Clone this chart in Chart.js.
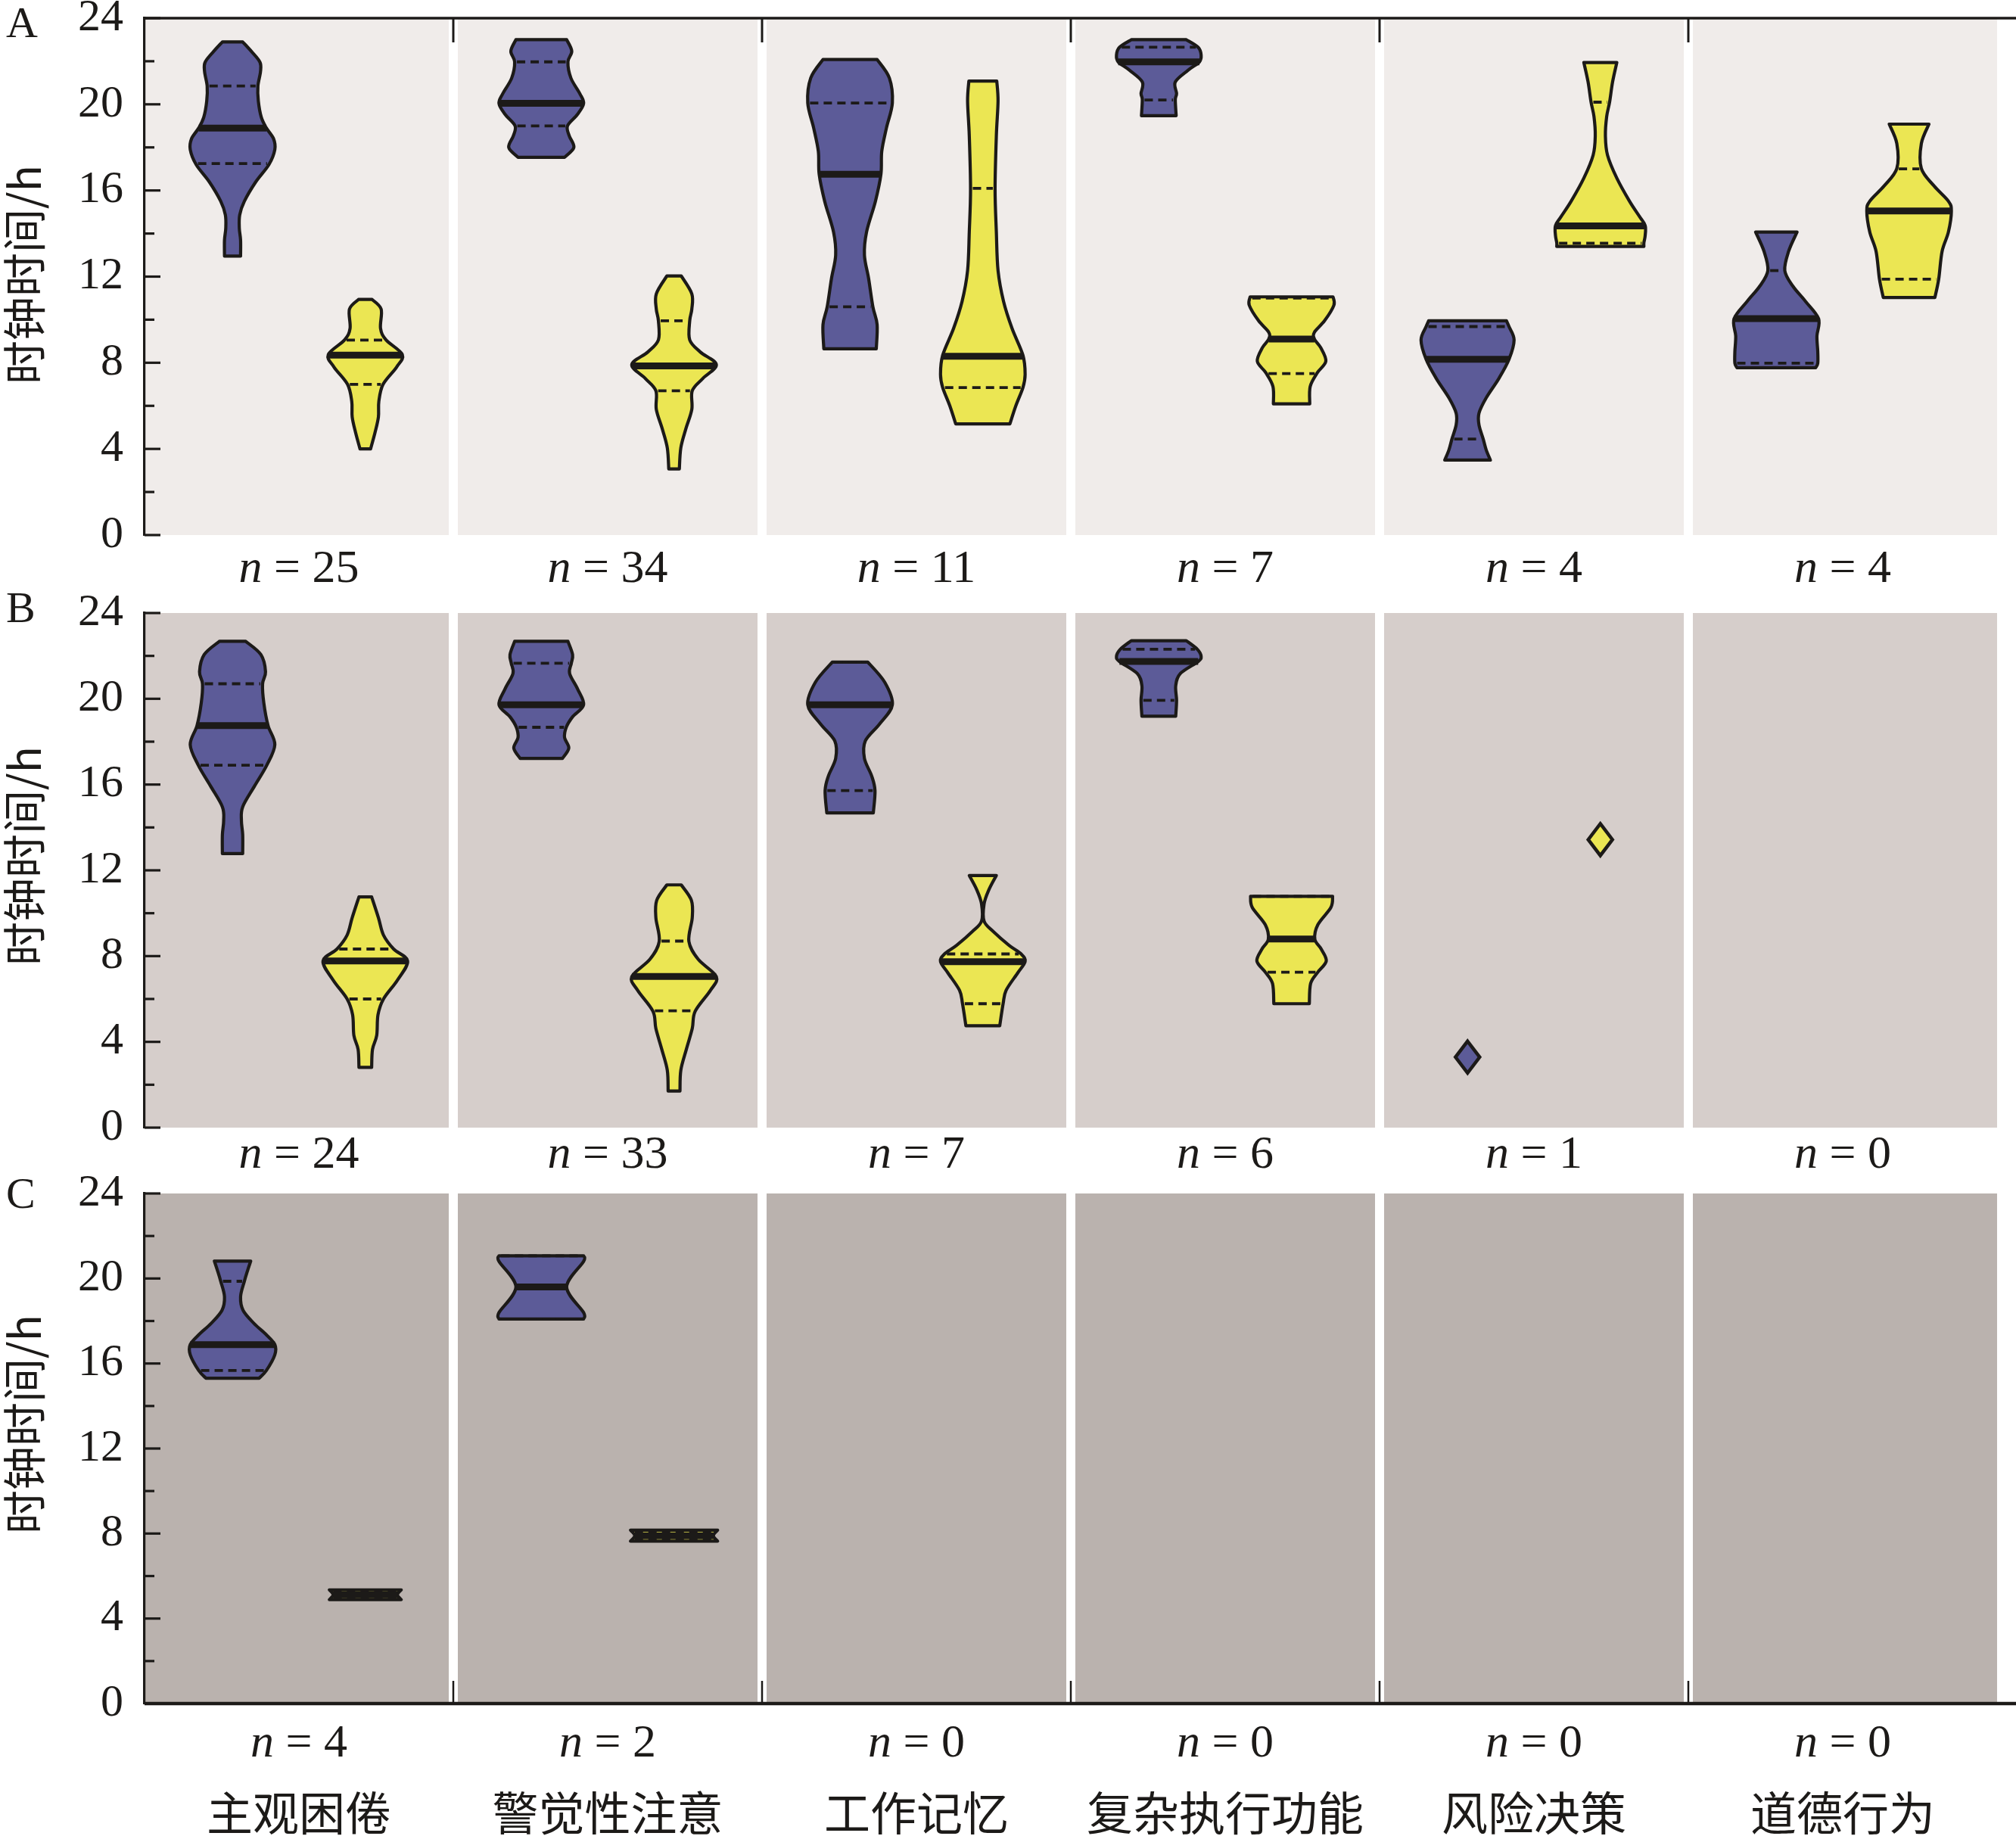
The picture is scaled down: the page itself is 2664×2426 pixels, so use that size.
<!DOCTYPE html>
<html lang="zh">
<head>
<meta charset="UTF-8">
<title>时钟时间小提琴图</title>
<script src="https://cdn.jsdelivr.net/npm/chart.js@4.4.0/dist/chart.umd.min.js"></script>
<style>
  html, body { margin: 0; padding: 0; background: #fff; }
  body { width: 2664px; height: 2426px; position: relative; overflow: hidden; }
  canvas { position: absolute; left: 0; }
</style>
</head>
<body>
<canvas id="panelA" width="2664" height="840" style="top:-40px"></canvas>
<canvas id="panelB" width="2664" height="820" style="top:746px"></canvas>
<canvas id="panelC" width="2664" height="913" style="top:1513px"></canvas>
<script>
// ---- data (hours) ----
const categories = ['主观困倦', '警觉性注意', '工作记忆', '复杂执行功能', '风险决策', '道德行为'];
const yTicks = [0, 4, 8, 12, 16, 20, 24];

const countsA = [25, 34, 11, 7, 4, 4];
const countsB = [24, 33, 7, 6, 1, 0];
const countsC = [4, 2, 0, 0, 0, 0];

// each violin: y = values along the outline, w = relative half width, med / q1 / q3
const violetA = [
  { y: [12.95, 13.7, 14.25, 14.87, 15.5, 16.4, 17.2, 17.9, 18.4, 18.9, 19.4, 20.15, 20.85, 21.5, 21.95, 22.45, 22.9],
    w: [0.19, 0.19, 0.16, 0.17, 0.28, 0.55, 0.86, 1.0, 0.97, 0.8, 0.68, 0.61, 0.6, 0.66, 0.65, 0.45, 0.24], med: 18.9, q1: 17.25, q3: 20.85 },
  { y: [17.54, 18.0, 18.54, 19.0, 19.52, 20.04, 20.5, 21.22, 21.97, 22.47, 23.0],
    w: [0.55, 0.77, 0.66, 0.62, 0.85, 1.0, 0.91, 0.7, 0.63, 0.72, 0.6], med: 20.05, q1: 19.0, q3: 21.97 },
  { y: [8.65, 9.77, 10.6, 11.9, 13.0, 14.07, 15.5, 16.75, 17.82, 18.9, 20.06, 21.22, 22.08],
    w: [0.62, 0.64, 0.54, 0.44, 0.34, 0.39, 0.6, 0.73, 0.75, 0.86, 1.0, 0.93, 0.64], med: 16.75, q1: 10.6, q3: 20.06 },
  { y: [19.47, 20.22, 20.5, 21.04, 21.58, 21.97, 22.3, 22.65, 23.0],
    w: [0.41, 0.39, 0.42, 0.39, 0.69, 0.96, 1.0, 0.93, 0.65], med: 21.97, q1: 20.2, q3: 22.65 },
  { y: [3.48, 3.96, 4.46, 5.12, 5.66, 6.37, 7.27, 8.16, 9.06, 9.68, 9.95],
    w: [0.54, 0.44, 0.37, 0.27, 0.27, 0.44, 0.74, 0.98, 1.1, 0.98, 0.92], med: 8.16, q1: 4.46, q3: 9.68 },
  { y: [7.77, 7.98, 8.52, 9.24, 10.04, 10.85, 11.56, 12.28, 13.17, 14.07],
    w: [0.93, 0.98, 0.98, 0.96, 1.0, 0.69, 0.39, 0.2, 0.29, 0.49], med: 10.05, q1: 7.98, q3: 12.28 }
];
const yellowA = [
  { y: [4.0, 4.76, 5.48, 6.2, 7.0, 7.8, 8.38, 9.06, 9.6, 10.49, 10.94],
    w: [0.125, 0.23, 0.31, 0.32, 0.42, 0.74, 0.875, 0.49, 0.36, 0.375, 0.16], med: 8.35, q1: 7.0, q3: 9.05 },
  { y: [3.07, 4.05, 4.94, 5.84, 6.7, 7.27, 7.91, 8.5, 9.06, 9.95, 10.49, 11.2, 12.03],
    w: [0.125, 0.16, 0.28, 0.42, 0.43, 0.68, 1.0, 0.62, 0.37, 0.37, 0.42, 0.42, 0.17], med: 7.85, q1: 6.7, q3: 9.95 },
  { y: [5.16, 6.0, 6.86, 7.45, 8.34, 9.6, 10.85, 12.28, 14.07, 16.07, 18.54, 20.15, 21.08],
    w: [0.64, 0.78, 0.95, 1.0, 0.95, 0.69, 0.49, 0.36, 0.32, 0.29, 0.32, 0.36, 0.33], med: 8.3, q1: 6.85, q3: 16.1 },
  { y: [6.09, 6.9, 7.54, 8.07, 8.7, 9.1, 9.42, 9.95, 10.67, 11.06],
    w: [0.43, 0.44, 0.61, 0.81, 0.69, 0.54, 0.54, 0.78, 1.0, 0.98], med: 9.1, q1: 7.5, q3: 11.0 },
  { y: [13.4, 13.57, 13.9, 14.37, 14.78, 15.5, 16.57, 17.64, 18.54, 19.43, 20.11, 21.04, 21.94],
    w: [1.03, 1.03, 1.06, 1.06, 0.93, 0.69, 0.39, 0.17, 0.12, 0.15, 0.22, 0.29, 0.39], med: 14.35, q1: 13.55, q3: 20.1 },
  { y: [11.03, 11.88, 13.17, 14.07, 15.05, 15.5, 16.21, 17.02, 18.18, 19.08],
    w: [0.61, 0.7, 0.78, 0.93, 1.0, 0.93, 0.59, 0.29, 0.29, 0.47], med: 15.05, q1: 11.88, q3: 17.0 }
];

const violetB = [
  { y: [12.78, 13.66, 14.31, 14.96, 15.93, 16.9, 17.86, 18.75, 19.8, 20.69, 21.26, 22.06, 22.68],
    w: [0.24, 0.24, 0.21, 0.24, 0.52, 0.81, 1.0, 0.84, 0.74, 0.71, 0.78, 0.67, 0.31], med: 18.75, q1: 16.9, q3: 20.7 },
  { y: [17.22, 17.7, 18.19, 18.67, 19.16, 19.72, 20.45, 21.18, 21.66, 22.06, 22.68],
    w: [0.5, 0.65, 0.55, 0.59, 0.74, 1.0, 0.86, 0.67, 0.71, 0.74, 0.63], med: 19.72, q1: 18.67, q3: 21.66 },
  { y: [14.68, 15.72, 16.41, 17.22, 18.03, 18.83, 19.72, 20.77, 21.71],
    w: [0.55, 0.59, 0.51, 0.34, 0.36, 0.7, 1.0, 0.82, 0.42], med: 19.72, q1: 15.72, q3: 21.71 },
  { y: [19.19, 19.93, 20.61, 21.18, 21.74, 21.98, 22.31, 22.71],
    w: [0.4, 0.42, 0.4, 0.51, 0.93, 1.0, 0.91, 0.65], med: 21.74, q1: 19.93, q3: 22.31 },
  { point: 3.29 },
  null
];
const yellowB = [
  { y: [2.81, 3.65, 4.3, 5.26, 6.0, 6.88, 7.77, 8.33, 8.98, 9.79, 10.76],
    w: [0.15, 0.17, 0.27, 0.3, 0.43, 0.76, 1.0, 0.67, 0.43, 0.31, 0.15], med: 7.77, q1: 6.0, q3: 8.33 },
  { y: [1.71, 2.68, 3.65, 4.62, 5.43, 6.4, 7.04, 7.85, 8.69, 9.79, 10.6, 11.32],
    w: [0.14, 0.16, 0.29, 0.43, 0.5, 0.86, 1.0, 0.57, 0.35, 0.43, 0.41, 0.17], med: 7.05, q1: 5.45, q3: 8.7 },
  { y: [4.75, 5.78, 6.4, 7.2, 7.74, 8.09, 8.5, 9.14, 9.63, 10.43, 11.08, 11.76],
    w: [0.4, 0.48, 0.55, 0.82, 1.0, 0.91, 0.62, 0.25, 0.03, 0.03, 0.14, 0.32], med: 7.74, q1: 5.78, q3: 8.1 },
  { y: [5.78, 6.72, 7.25, 7.77, 8.33, 8.79, 9.46, 10.27, 10.79],
    w: [0.42, 0.45, 0.62, 0.82, 0.7, 0.55, 0.62, 0.93, 0.97], med: 8.8, q1: 7.25, q3: 10.79 },
  { point: 13.43 },
  null
];

const violetC = [
  { y: [15.31, 15.67, 16.41, 16.89, 17.35, 17.88, 18.5, 19.14, 19.87, 20.4, 20.82],
    w: [0.63, 0.8, 1.0, 1.0, 0.8, 0.51, 0.25, 0.19, 0.28, 0.36, 0.43], med: 16.89, q1: 15.67, q3: 19.87 },
  { y: [18.09, 18.4, 19.6, 20.8, 21.07],
    w: [1.0, 1.0, 0.6, 1.0, 1.0], med: 19.6, q1: 18.09, q3: 21.07 },
  null, null, null, null
];
const yellowC = [
  { y: [4.89, 5.12, 5.35], w: [0.85, 0.76, 0.85], med: 5.12, q1: 5.0, q3: 5.25 },
  { y: [7.64, 7.9, 8.16], w: [1.03, 0.93, 1.03], med: 7.9, q1: 7.76, q3: 8.04 },
  null, null, null, null
];

// ---- styling ----
const INK = '#1c1a18';
const VIOLET = '#5c5b98';
const YELLOW = '#ebe653';
const VIOLET_X = 0.285, YELLOW_X = 0.715;   // position inside a category
const HALF = 0.137;                          // max half width in x units
const SERIF = '"Liberation Serif", "Times New Roman", serif';
const CJK = '"Noto Sans CJK SC", sans-serif';

function widthAt(d, v) {
  const ys = d.y, ws = d.w;
  if (v <= ys[0]) return ws[0];
  if (v >= ys[ys.length - 1]) return ws[ws.length - 1];
  for (let i = 0; i < ys.length - 1; i++) {
    if (v >= ys[i] && v <= ys[i + 1]) {
      const t = (v - ys[i]) / (ys[i + 1] - ys[i]);
      return ws[i] + t * (ws[i + 1] - ws[i]);
    }
  }
  return ws[0];
}

// catmull-rom through the outline points of one side
function sidePath(ctx, pts, connect) {
  if (connect) ctx.lineTo(pts[0][0], pts[0][1]);
  else ctx.moveTo(pts[0][0], pts[0][1]);
  const n = pts.length;
  for (let i = 0; i < n - 1; i++) {
    const p0 = pts[Math.max(i - 1, 0)], p1 = pts[i], p2 = pts[i + 1], p3 = pts[Math.min(i + 2, n - 1)];
    ctx.bezierCurveTo(
      p1[0] + (p2[0] - p0[0]) / 6, p1[1] + (p2[1] - p0[1]) / 6,
      p2[0] - (p3[0] - p1[0]) / 6, p2[1] - (p3[1] - p1[1]) / 6,
      p2[0], p2[1]);
  }
}

function drawViolin(ctx, xs, ys, cx, d, color) {
  const px = v => xs.getPixelForValue(v);
  const py = v => ys.getPixelForValue(v);
  if (d.point !== undefined) {
    const x = px(cx), y = py(d.point);
    ctx.beginPath();
    ctx.moveTo(x, y - 21); ctx.lineTo(x + 16, y); ctx.lineTo(x, y + 21); ctx.lineTo(x - 16, y);
    ctx.closePath();
    ctx.fillStyle = color; ctx.fill();
    ctx.lineWidth = 4.5; ctx.strokeStyle = INK; ctx.lineJoin = 'miter'; ctx.stroke();
    return;
  }
  const left = d.y.map((v, i) => [px(cx - d.w[i] * HALF), py(v)]);
  const right = d.y.map((v, i) => [px(cx + d.w[i] * HALF), py(v)]).reverse();
  ctx.beginPath();
  sidePath(ctx, left, false);
  sidePath(ctx, right, true);
  ctx.closePath();
  ctx.fillStyle = color; ctx.fill();
  ctx.lineWidth = 4.2; ctx.strokeStyle = INK; ctx.lineJoin = 'round'; ctx.stroke();

  ctx.save();
  ctx.setLineDash([11, 7]);
  ctx.lineWidth = 3.8;
  [d.q1, d.q3].forEach(q => {
    const hw = widthAt(d, q) * HALF;
    ctx.beginPath();
    ctx.moveTo(px(cx - hw) + 3, py(q));
    ctx.lineTo(px(cx + hw) - 3, py(q));
    ctx.stroke();
  });
  ctx.restore();

  const hw = widthAt(d, d.med) * HALF;
  ctx.lineWidth = 9;
  ctx.beginPath();
  ctx.moveTo(px(cx - hw), py(d.med));
  ctx.lineTo(px(cx + hw), py(d.med));
  ctx.stroke();
}

function drawCount(ctx, cx, cy, count) {
  const fi = 'italic 62px ' + SERIF, fr = '62px ' + SERIF;
  const rest = ' = ' + count;
  ctx.font = fi; const w1 = ctx.measureText('n').width;
  ctx.font = fr; const w2 = ctx.measureText(rest).width;
  const x = cx - (w1 + w2) / 2;
  ctx.textAlign = 'left'; ctx.textBaseline = 'middle'; ctx.fillStyle = INK;
  ctx.font = fi; ctx.fillText('n', x, cy);
  ctx.font = fr; ctx.fillText(rest, x + w1, cy);
}

function panelPlugin(p) {
  return {
    id: 'panel' + p.letter,
    beforeDraw(chart) {
      const { ctx, chartArea: a, scales: { x } } = chart;
      ctx.save();
      ctx.fillStyle = p.bg;
      for (let i = 0; i < categories.length; i++) {
        const x0 = i === 0 ? a.left : x.getPixelForValue(i) + 6;
        const x1 = i === categories.length - 1 ? x.getPixelForValue(i + 1) : x.getPixelForValue(i + 1) - 6;
        ctx.fillRect(x0, a.top, x1 - x0, a.bottom - a.top);
      }
      ctx.restore();
    },
    afterDraw(chart) {
      const { ctx, chartArea: a, scales: { x, y } } = chart;
      ctx.save();
      ctx.strokeStyle = INK; ctx.lineCap = 'butt';
      // inward ticks on the y axis
      ctx.lineWidth = 3.2;
      for (let v = 0; v <= 24; v += 2) {
        const py = y.getPixelForValue(v);
        ctx.beginPath();
        ctx.moveTo(a.left, py);
        ctx.lineTo(a.left + (v % 4 === 0 ? 21 : 13), py);
        ctx.stroke();
      }
      if (p.topLine) {
        ctx.lineWidth = 3.5;
        ctx.beginPath(); ctx.moveTo(a.left, a.top); ctx.lineTo(chart.width, a.top); ctx.stroke();
        ctx.lineWidth = 3;
        for (let i = 1; i < categories.length; i++) {
          const px = x.getPixelForValue(i);
          ctx.beginPath(); ctx.moveTo(px, a.top); ctx.lineTo(px, a.top + 32); ctx.stroke();
        }
      }
      if (p.bottomLine) {
        ctx.lineWidth = 4.5;
        ctx.beginPath(); ctx.moveTo(a.left, a.bottom); ctx.lineTo(chart.width, a.bottom); ctx.stroke();
        ctx.lineWidth = 2.5;
        for (let i = 1; i < categories.length; i++) {
          const px = x.getPixelForValue(i);
          ctx.beginPath(); ctx.moveTo(px, a.bottom); ctx.lineTo(px, a.bottom - 30); ctx.stroke();
        }
      }
      // violins
      for (let i = 0; i < categories.length; i++) {
        if (p.violet[i]) drawViolin(ctx, x, y, i + VIOLET_X, p.violet[i], VIOLET);
        if (p.yellow[i]) drawViolin(ctx, x, y, i + YELLOW_X, p.yellow[i], YELLOW);
      }
      // n labels
      for (let i = 0; i < categories.length; i++) {
        drawCount(ctx, x.getPixelForValue(i + 0.5), a.bottom + p.countGap, p.counts[i]);
      }
      if (p.showCategories) {
        ctx.font = '61px ' + CJK; ctx.textAlign = 'center'; ctx.textBaseline = 'middle'; ctx.fillStyle = INK;
        categories.forEach((c, i) => ctx.fillText(c, x.getPixelForValue(i + 0.5), a.bottom + 145));
      }
      // panel letter
      ctx.font = '58px ' + SERIF; ctx.textAlign = 'left'; ctx.textBaseline = 'middle'; ctx.fillStyle = INK;
      ctx.fillText(p.letter, 8, a.top + p.letterDy);
      // y title
      ctx.translate(32, a.top + p.titleDy);
      ctx.rotate(-Math.PI / 2);
      ctx.font = '58px ' + CJK; ctx.textAlign = 'center';
      ctx.fillText('时钟时间/h', 0, 0);
      ctx.restore();
    }
  };
}

function makePanel(id, p) {
  return new Chart(document.getElementById(id), {
    type: 'scatter',
    data: { datasets: [] },
    options: {
      responsive: false,
      animation: false,
      devicePixelRatio: 1,
      layout: { padding: { top: p.padTop, bottom: p.padBottom, left: 0, right: 25 } },
      plugins: { legend: { display: false }, tooltip: { enabled: false } },
      scales: {
        x: { type: 'linear', min: 0, max: categories.length, display: false },
        y: {
          type: 'linear', min: yTicks[0], max: yTicks[yTicks.length - 1],
          afterBuildTicks: s => { s.ticks = yTicks.map(v => ({ value: v })); },
          ticks: { padding: 28, color: INK, font: { family: SERIF, size: 60 } },
          grid: { display: false, drawTicks: false },
          border: { display: true, width: 3.2, color: INK },
          afterFit: s => { s.width = 191; }
        }
      }
    },
    plugins: [panelPlugin(p)]
  });
}

makePanel('panelA', { letter: 'A', bg: '#f0ecea', padTop: 63, padBottom: 93, violet: violetA, yellow: yellowA,
  counts: countsA, countGap: 46, topLine: true, letterDy: 10, titleDy: 339 });
makePanel('panelB', { letter: 'B', bg: '#d6cecb', padTop: 63, padBottom: 76, violet: violetB, yellow: yellowB,
  counts: countsB, countGap: 37, letterDy: -3, titleDy: 321 });
makePanel('panelC', { letter: 'C', bg: '#bab2ae', padTop: 63, padBottom: 175, violet: violetC, yellow: yellowC,
  counts: countsC, countGap: 54, bottomLine: true, showCategories: true, letterDy: 4, titleDy: 305 });
</script>
</body>
</html>
